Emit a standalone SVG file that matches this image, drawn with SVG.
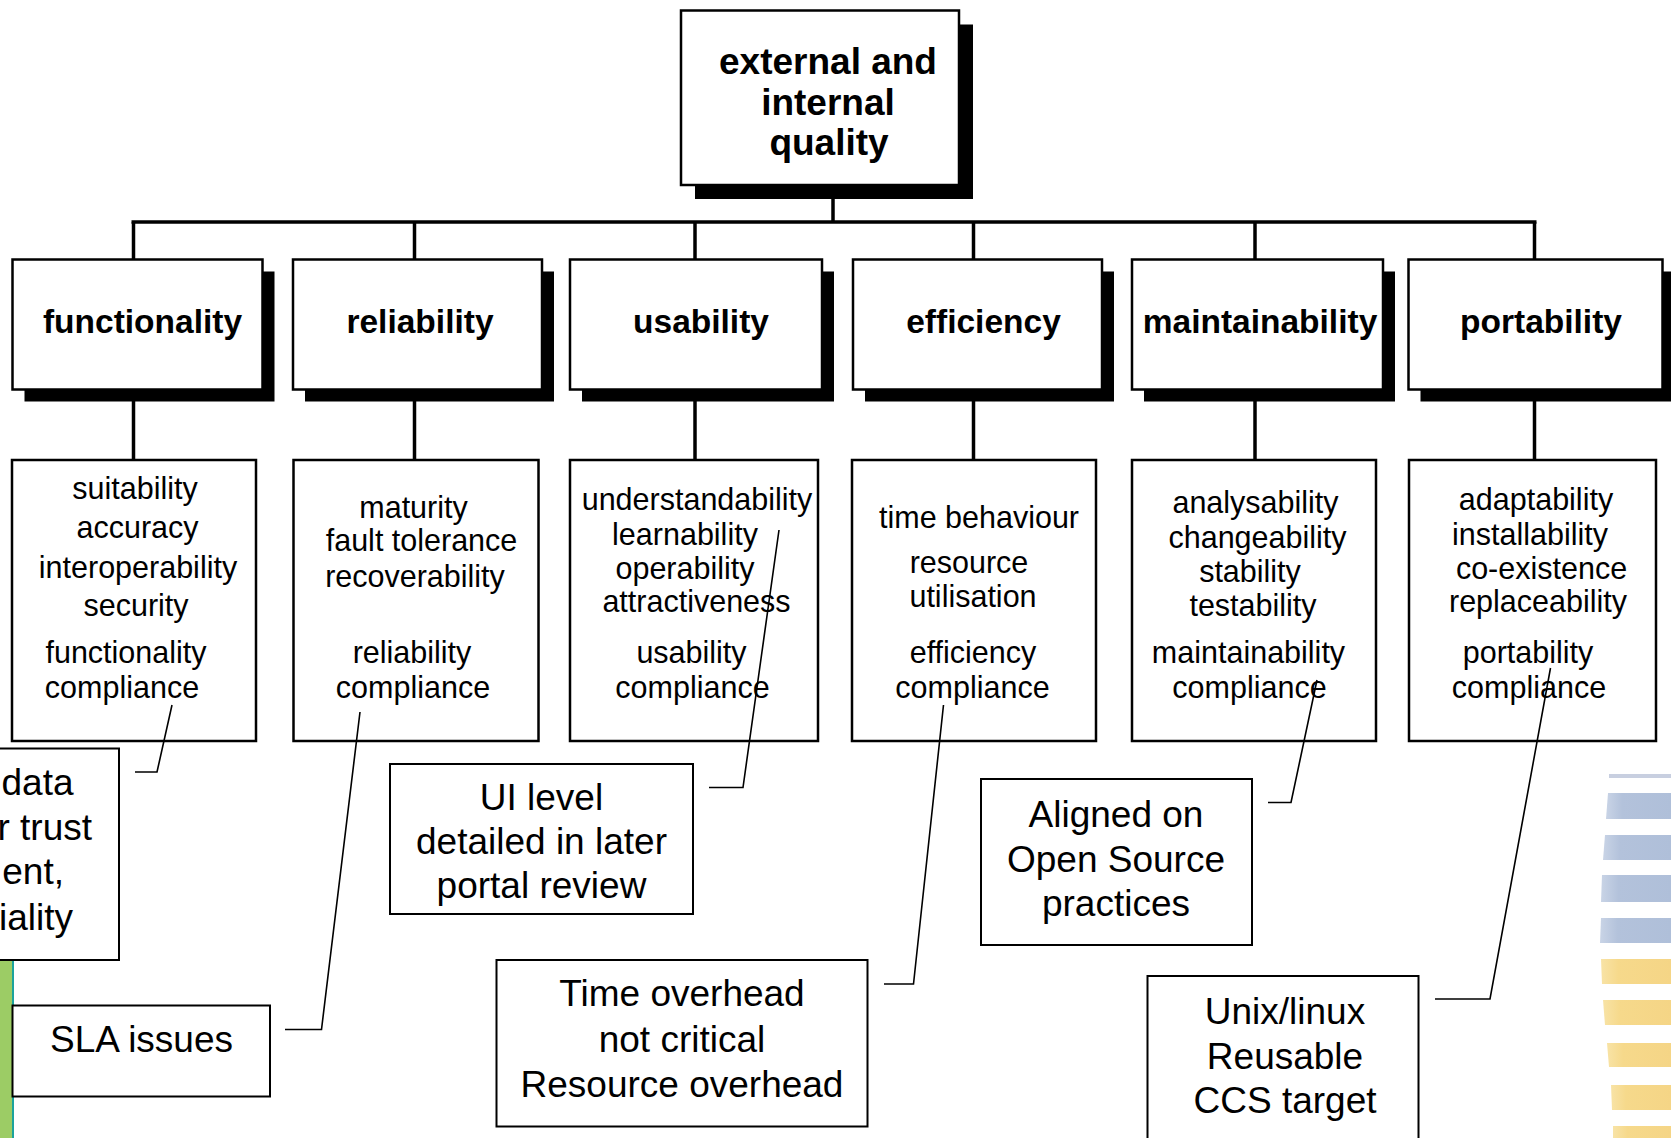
<svg xmlns="http://www.w3.org/2000/svg" width="1671" height="1138" viewBox="0 0 1671 1138">
<style>
text { font-family: "Liberation Sans", Arial, sans-serif; fill: #000; text-anchor: middle; }
.root { font-size: 37px; font-weight: bold; }
.cat { font-size: 33.5px; font-weight: bold; }
.sub { font-size: 30.5px; }
.ann { font-size: 37px; }
.box { fill: #fff; stroke: #000; stroke-width: 2.5; }
.shadow { fill: #000; }
.subbox { fill: #fff; stroke: #000; stroke-width: 2.5; }
.annbox { fill: #fff; stroke: #000; stroke-width: 2; }
.tree { stroke: #000; stroke-width: 3.5; fill: none; }
.leader { stroke: #000; stroke-width: 1.6; fill: none; }
.blue { fill: url(#gBlue); }
.yellow { fill: url(#gYellow); }
</style>
<defs>
<linearGradient id="gBlue" x1="0" y1="0" x2="1" y2="0">
<stop offset="0" stop-color="#c9d4e6"/>
<stop offset="0.25" stop-color="#b3c2db"/>
<stop offset="1" stop-color="#afbfd9"/>
</linearGradient>
<linearGradient id="gYellow" x1="0" y1="0" x2="1" y2="0">
<stop offset="0" stop-color="#f8e3a6"/>
<stop offset="0.25" stop-color="#f6d98b"/>
<stop offset="1" stop-color="#f5d586"/>
</linearGradient>
</defs>
<rect x="0" y="0" width="1671" height="1138" fill="#fff"/>

<g id="decor">
<rect x="0" y="960" width="12" height="178" fill="#9ccc65"/>
<rect x="12" y="960" width="2" height="178" fill="#1ba39c"/>
<rect x="1609" y="774" width="62" height="4" fill="#c8cfe0"/>
<polygon class="blue" points="1608,793 1671,793 1671,819 1606,819"/>
<polygon class="blue" points="1605,835 1671,835 1671,860 1603,860"/>
<polygon class="blue" points="1602,875 1671,875 1671,902 1601,902"/>
<polygon class="blue" points="1601,918 1671,918 1671,943 1600,943"/>
<polygon class="yellow" points="1601,959 1671,959 1671,984 1602,984"/>
<polygon class="yellow" points="1603,1000 1671,1000 1671,1025 1605,1025"/>
<polygon class="yellow" points="1607,1043 1671,1043 1671,1067 1609,1067"/>
<polygon class="yellow" points="1611,1085 1671,1085 1671,1110 1612,1110"/>
<polygon class="yellow" points="1613,1126 1671,1126 1671,1138 1613,1138"/>
</g>

<g id="root">
<rect class="shadow" x="695" y="24.5" width="278" height="174.5"/>
<rect class="box" x="681" y="10.5" width="278" height="174.5"/>
<text class="root" x="828" y="73.5">external and</text>
<text class="root" x="828" y="114.5">internal</text>
<text class="root" x="829" y="155">quality</text>
</g>

<g id="cat-functionality">
<rect class="shadow" x="24.5" y="271.5" width="250" height="130"/>
<rect class="box" x="12.5" y="259.5" width="250" height="130"/>
<text class="cat" x="142.5" y="333">functionality</text>
</g>
<g id="cat-reliability">
<rect class="shadow" x="305" y="271.5" width="249" height="130"/>
<rect class="box" x="293" y="259.5" width="249" height="130"/>
<text class="cat" x="420" y="333">reliability</text>
</g>
<g id="cat-usability">
<rect class="shadow" x="582" y="271.5" width="252" height="130"/>
<rect class="box" x="570" y="259.5" width="252" height="130"/>
<text class="cat" x="701" y="333">usability</text>
</g>
<g id="cat-efficiency">
<rect class="shadow" x="865" y="271.5" width="249" height="130"/>
<rect class="box" x="853" y="259.5" width="249" height="130"/>
<text class="cat" x="983.5" y="333">efficiency</text>
</g>
<g id="cat-maintainability">
<rect class="shadow" x="1144" y="271.5" width="251" height="130"/>
<rect class="box" x="1132" y="259.5" width="251" height="130"/>
<text class="cat" x="1260" y="333">maintainability</text>
</g>
<g id="cat-portability">
<rect class="shadow" x="1420.5" y="271.5" width="254" height="130"/>
<rect class="box" x="1408.5" y="259.5" width="254" height="130"/>
<text class="cat" x="1541" y="333">portability</text>
</g>

<g id="sub-functionality">
<rect class="subbox" x="12" y="460" width="244" height="281"/>
<text class="sub" x="135" y="499">suitability</text>
<text class="sub" x="137.5" y="538">accuracy</text>
<text class="sub" x="138" y="578">interoperability</text>
<text class="sub" x="136" y="616">security</text>
<text class="sub" x="126" y="663">functionality</text>
<text class="sub" x="122" y="698">compliance</text>
</g>
<g id="sub-reliability">
<rect class="subbox" x="293.5" y="460" width="245" height="281"/>
<text class="sub" x="413.5" y="518">maturity</text>
<text class="sub" x="421.5" y="551">fault tolerance</text>
<text class="sub" x="415" y="587">recoverability</text>
<text class="sub" x="412" y="663">reliability</text>
<text class="sub" x="413" y="698">compliance</text>
</g>
<g id="sub-usability">
<rect class="subbox" x="570" y="460" width="248" height="281"/>
<text class="sub" x="697" y="510">understandability</text>
<text class="sub" x="685" y="545">learnability</text>
<text class="sub" x="685" y="579">operability</text>
<text class="sub" x="696.5" y="612">attractiveness</text>
<text class="sub" x="691.5" y="663">usability</text>
<text class="sub" x="692.5" y="698">compliance</text>
</g>
<g id="sub-efficiency">
<rect class="subbox" x="852" y="460" width="244" height="281"/>
<text class="sub" x="979" y="528">time behaviour</text>
<text class="sub" x="969" y="573">resource</text>
<text class="sub" x="973" y="607">utilisation</text>
<text class="sub" x="973" y="663">efficiency</text>
<text class="sub" x="972.5" y="698">compliance</text>
</g>
<g id="sub-maintainability">
<rect class="subbox" x="1132" y="460" width="244" height="281"/>
<text class="sub" x="1255.5" y="513">analysability</text>
<text class="sub" x="1257.5" y="548">changeability</text>
<text class="sub" x="1250" y="582">stability</text>
<text class="sub" x="1253" y="616">testability</text>
<text class="sub" x="1248.5" y="663">maintainability</text>
<text class="sub" x="1249.5" y="698">compliance</text>
</g>
<g id="sub-portability">
<rect class="subbox" x="1409" y="460" width="247" height="281"/>
<text class="sub" x="1536" y="510">adaptability</text>
<text class="sub" x="1530" y="545">installability</text>
<text class="sub" x="1541.5" y="579">co-existence</text>
<text class="sub" x="1538" y="612">replaceability</text>
<text class="sub" x="1528" y="663">portability</text>
<text class="sub" x="1529" y="698">compliance</text>
</g>

<g id="note-security">
<rect class="annbox" x="-10" y="748.5" width="129" height="211.5"/>
<text class="ann" x="73.5" y="795" style="text-anchor:end">data</text>
<text class="ann" x="92" y="840" style="text-anchor:end">r trust</text>
<text class="ann" x="64" y="884" style="text-anchor:end">ent,</text>
<text class="ann" x="73" y="930" style="text-anchor:end">iality</text>
</g>
<g id="note-sla">
<rect class="annbox" x="12.5" y="1005.5" width="257.5" height="91"/>
<text class="ann" x="141.5" y="1051.5">SLA issues</text>
</g>
<g id="note-ui">
<rect class="annbox" x="390" y="764" width="303" height="150"/>
<text class="ann" x="541.5" y="810">UI level</text>
<text class="ann" x="541.5" y="854">detailed in later</text>
<text class="ann" x="541.5" y="898">portal review</text>
</g>
<g id="note-time">
<rect class="annbox" x="496.5" y="960" width="371" height="166.5"/>
<text class="ann" x="682" y="1006">Time overhead</text>
<text class="ann" x="682" y="1051.5">not critical</text>
<text class="ann" x="682" y="1096.5">Resource overhead</text>
</g>
<g id="note-aligned">
<rect class="annbox" x="981" y="779" width="271" height="166"/>
<text class="ann" x="1116" y="827">Aligned on</text>
<text class="ann" x="1116" y="871.5">Open Source</text>
<text class="ann" x="1116" y="916">practices</text>
</g>
<g id="note-unix">
<rect class="annbox" x="1147.5" y="976" width="271" height="200"/>
<text class="ann" x="1285" y="1023.5">Unix/linux</text>
<text class="ann" x="1285" y="1068.5">Reusable</text>
<text class="ann" x="1285" y="1113">CCS target</text>
</g>

<g id="connectors">
<line class="tree" x1="833" y1="199" x2="833" y2="222"/>
<line class="tree" x1="131.5" y1="222" x2="1536.5" y2="222" stroke-width="4.5"/>
<line class="tree" x1="133.5" y1="222" x2="133.5" y2="259"/>
<line class="tree" x1="414.5" y1="222" x2="414.5" y2="259"/>
<line class="tree" x1="695" y1="222" x2="695" y2="259"/>
<line class="tree" x1="973.5" y1="222" x2="973.5" y2="259"/>
<line class="tree" x1="1255" y1="222" x2="1255" y2="259"/>
<line class="tree" x1="1534.5" y1="222" x2="1534.5" y2="259"/>
<line class="tree" x1="133.5" y1="390" x2="133.5" y2="460"/>
<line class="tree" x1="414.5" y1="390" x2="414.5" y2="460"/>
<line class="tree" x1="695" y1="390" x2="695" y2="460"/>
<line class="tree" x1="973.5" y1="390" x2="973.5" y2="460"/>
<line class="tree" x1="1255" y1="390" x2="1255" y2="460"/>
<line class="tree" x1="1534.5" y1="390" x2="1534.5" y2="460"/>
<polyline class="leader" points="135,772 157,772 172,705"/>
<polyline class="leader" points="285,1029.5 321.5,1029.5 360,712"/>
<polyline class="leader" points="709,787.5 743,787.5 779,530"/>
<polyline class="leader" points="884,984 913.5,984 943.5,705"/>
<polyline class="leader" points="1268,802.5 1291,802.5 1317,680"/>
<polyline class="leader" points="1435,999 1490,999 1550.5,668"/>
</g>
</svg>
